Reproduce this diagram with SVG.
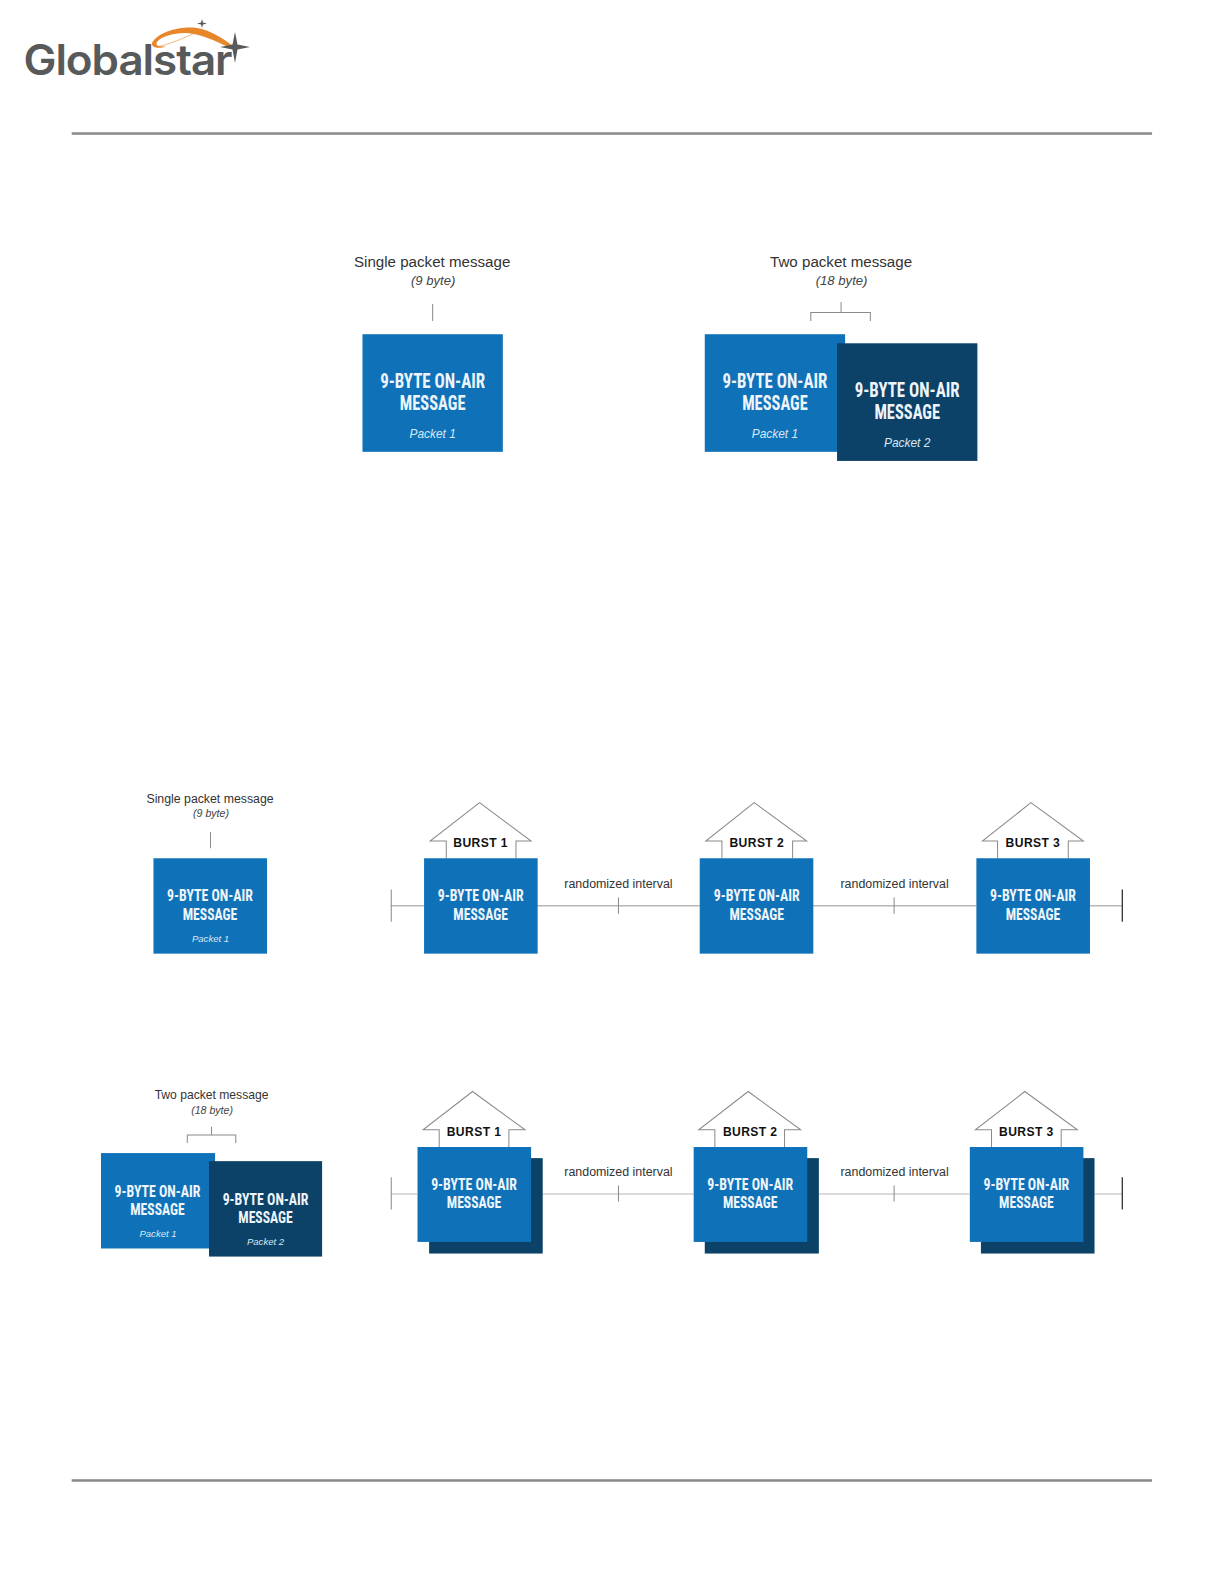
<svg xmlns="http://www.w3.org/2000/svg" width="1224" height="1584" viewBox="0 0 1224 1584">
<style>
text{font-family:"Liberation Sans",Arial,sans-serif;text-anchor:middle}
.lb{fill:#0f72b9}.db{fill:#0c4168}
.h{font-family:"Liberation Sans Narrow","Roboto Condensed","Liberation Sans",sans-serif;font-weight:700;fill:#eef5fa}
.big{font-size:20px}.sm{font-size:16.500px}
.p{font-style:italic;fill:#d8e8f3}
.t{fill:#333}
.i{font-style:italic;fill:#444}
.ln{fill:none;stroke:#8a8a8a;stroke-width:1}
.ax{fill:none;stroke:#b8b8b8;stroke-width:1.5}
.ax2{fill:none;stroke:#b8b8b8;stroke-width:1}
.b{font-weight:700;font-size:12px;fill:#111;letter-spacing:.4px}
.r{fill:#8a8a8a}
</style>
<rect width="1224" height="1584" fill="#fff"/>
<g id="logo">
<path d="M233 46C222 38 210 30 197 28C180 26 158 32 152 43C151 48 160 49 166 46.500C160 47 155 46 157 42C161 36 180 31 194 34C208 37 220 43 230 48Z" fill="#e8862a"/>
<path d="M157 47C170 44 184 38 195 33" fill="none" stroke="#e8862a" stroke-width=".6"/>
<path d="M235 32L237.500 44.500L250 47L237.500 49.500L235 63L232.500 49.500L220 47L232.500 44.500Z" fill="#58595b"/>
<path d="M202 19L203 22.500L207 23.500L203 24.500L202 28L201 24.500L197 23.500L201 22.500Z" fill="#58595b"/>
<text x="127.500" y="74.500" textLength="208" lengthAdjust="spacingAndGlyphs" style="font-family:Inter,'Liberation Sans',sans-serif;font-size:42px;font-weight:600;fill:#58595b;letter-spacing:-1px">Globalstar</text>
</g>
<g id="page" transform="scale(1.0097)">
<g id="rules"><rect class="r" x="71" y="131" width="1070" height="2.500"/><rect class="r" x="71" y="1465" width="1070" height="2.500"/></g>
<g id="connectors">
<path class="ln" d="M428.500 301V318M803 318V309.500H862V318M833 299V309.500"/>
<path class="ln" d="M208.500 824V840M185.500 1132V1124H233.500V1132M209.500 1116V1124"/>
<path class="ax" d="M387 897H420M532 897H693M805 897H967M1079 897H1111"/>
<path class="ax2" d="M387 1182.500H413M537 1182.500H687M811 1182.500H960M1084 1182.500H1111"/>
<path class="ln" d="M387.500 881V913M612.500 889V905M885.500 889V905M387.500 1166V1198M612.500 1174V1190M885.500 1174V1190"/>
<path fill="none" stroke="#222" stroke-width="1.200" d="M1111.500 881V913M1111.500 1166V1198"/>
<path class="ln" d="M442 850V833H426L475 795L526 833H511V850M715 850V833H699L747 795L799 833H785V850M988 850V833H973L1021 795L1073 833H1058V850"/>
<path class="ln" d="M435 1136V1119H419L468 1081L520 1119H504V1136M708 1136V1119H692L741 1081L793 1119H777V1136M982 1136V1119H966L1015 1081L1067 1119H1051V1136"/>
</g>
<g id="top-labels">
<text class="t" x="428" y="264" style="font-size:15px">Single packet message</text>
<text class="i" x="429" y="282" style="font-size:13px">(9 byte)</text>
<text class="t" x="833" y="264" style="font-size:15px">Two packet message</text>
<text class="i" x="833.500" y="282" style="font-size:13px">(18 byte)</text>
</g>
<g id="top-single"><rect class="lb" x="359" y="331" width="139" height="116.500"/>
<text class="h big" x="428.500" y="384.500" textLength="104" lengthAdjust="spacingAndGlyphs">9-BYTE ON-AIR</text>
<text class="h big" x="428.500" y="406" textLength="65" lengthAdjust="spacingAndGlyphs">MESSAGE</text>
<text class="p" x="428.500" y="433.500" style="font-size:11.800px">Packet 1</text></g>
<g id="top-two-1"><rect class="lb" x="698" y="331" width="139" height="116.500"/>
<text class="h big" x="767.500" y="384.500" textLength="104" lengthAdjust="spacingAndGlyphs">9-BYTE ON-AIR</text>
<text class="h big" x="767.500" y="406" textLength="65" lengthAdjust="spacingAndGlyphs">MESSAGE</text>
<text class="p" x="767.500" y="433.500" style="font-size:11.800px">Packet 1</text></g>
<g id="top-two-2"><rect class="db" x="829" y="340" width="139" height="116.500"/>
<text class="h big" x="898.500" y="393.500" textLength="104" lengthAdjust="spacingAndGlyphs">9-BYTE ON-AIR</text>
<text class="h big" x="898.500" y="415" textLength="65" lengthAdjust="spacingAndGlyphs">MESSAGE</text>
<text class="p" x="898.500" y="442.500" style="font-size:11.800px">Packet 2</text></g>
<g id="mid-label">
<text class="t" x="208" y="795" style="font-size:12.200px">Single packet message</text>
<text class="i" x="209" y="809" style="font-size:10.500px">(9 byte)</text></g>
<g id="mid-single"><rect class="lb" x="152" y="850" width="112.500" height="94.500"/>
<text class="h sm" x="208" y="892.700" textLength="85" lengthAdjust="spacingAndGlyphs">9-BYTE ON-AIR</text>
<text class="h sm" x="208" y="910.700" textLength="54" lengthAdjust="spacingAndGlyphs">MESSAGE</text>
<text class="p" x="208.500" y="933" style="font-size:9.500px">Packet 1</text></g>
<g id="mid-burst-1"><rect class="lb" x="420" y="850" width="112.500" height="94.500"/>
<text class="h sm" x="476" y="892.700" textLength="85" lengthAdjust="spacingAndGlyphs">9-BYTE ON-AIR</text>
<text class="h sm" x="476" y="910.700" textLength="54" lengthAdjust="spacingAndGlyphs">MESSAGE</text>
<text class="b" x="476" y="839">BURST 1</text></g>
<g id="mid-burst-2"><rect class="lb" x="693" y="850" width="112.500" height="94.500"/>
<text class="h sm" x="749.500" y="892.700" textLength="85" lengthAdjust="spacingAndGlyphs">9-BYTE ON-AIR</text>
<text class="h sm" x="749.500" y="910.700" textLength="54" lengthAdjust="spacingAndGlyphs">MESSAGE</text>
<text class="b" x="749.500" y="839">BURST 2</text></g>
<g id="mid-burst-3"><rect class="lb" x="967" y="850" width="112.500" height="94.500"/>
<text class="h sm" x="1023" y="892.700" textLength="85" lengthAdjust="spacingAndGlyphs">9-BYTE ON-AIR</text>
<text class="h sm" x="1023" y="910.700" textLength="54" lengthAdjust="spacingAndGlyphs">MESSAGE</text>
<text class="b" x="1023" y="839">BURST 3</text></g>
<g id="intervals" style="font-size:12.300px">
<text class="t" x="612.500" y="879">randomized interval</text>
<text class="t" x="886" y="879">randomized interval</text>
<text class="t" x="612.500" y="1165">randomized interval</text>
<text class="t" x="886" y="1165">randomized interval</text></g>
<g id="low-label">
<text class="t" x="209.500" y="1088" style="font-size:12px">Two packet message</text>
<text class="i" x="210" y="1103" style="font-size:10.500px">(18 byte)</text></g>
<g id="low-two-1"><rect class="lb" x="100" y="1142" width="113" height="94.500"/>
<text class="h sm" x="156" y="1185.700" textLength="85" lengthAdjust="spacingAndGlyphs">9-BYTE ON-AIR</text>
<text class="h sm" x="156" y="1203" textLength="54" lengthAdjust="spacingAndGlyphs">MESSAGE</text>
<text class="p" x="156.500" y="1225" style="font-size:9.500px">Packet 1</text></g>
<g id="low-two-2"><rect class="db" x="207" y="1150" width="112" height="94.500"/>
<text class="h sm" x="263" y="1193" textLength="85" lengthAdjust="spacingAndGlyphs">9-BYTE ON-AIR</text>
<text class="h sm" x="263" y="1211" textLength="54" lengthAdjust="spacingAndGlyphs">MESSAGE</text>
<text class="p" x="263" y="1233" style="font-size:9.500px">Packet 2</text></g>
<g id="low-burst-1"><rect class="db" x="425" y="1147" width="112.500" height="94.500"/><rect class="lb" x="413.500" y="1136" width="112.500" height="94"/>
<text class="h sm" x="469.500" y="1178.700" textLength="85" lengthAdjust="spacingAndGlyphs">9-BYTE ON-AIR</text>
<text class="h sm" x="469.500" y="1196.500" textLength="54" lengthAdjust="spacingAndGlyphs">MESSAGE</text>
<text class="b" x="469.500" y="1125">BURST 1</text></g>
<g id="low-burst-2"><rect class="db" x="698" y="1147" width="113" height="94.500"/><rect class="lb" x="687" y="1136" width="112.500" height="94"/>
<text class="h sm" x="743" y="1178.700" textLength="85" lengthAdjust="spacingAndGlyphs">9-BYTE ON-AIR</text>
<text class="h sm" x="743" y="1196.500" textLength="54" lengthAdjust="spacingAndGlyphs">MESSAGE</text>
<text class="b" x="743" y="1125">BURST 2</text></g>
<g id="low-burst-3"><rect class="db" x="971.500" y="1147" width="112.500" height="94.500"/><rect class="lb" x="960.500" y="1136" width="112.500" height="94"/>
<text class="h sm" x="1016.500" y="1178.700" textLength="85" lengthAdjust="spacingAndGlyphs">9-BYTE ON-AIR</text>
<text class="h sm" x="1016.500" y="1196.500" textLength="54" lengthAdjust="spacingAndGlyphs">MESSAGE</text>
<text class="b" x="1016.500" y="1125">BURST 3</text></g>
</g>
</svg>
